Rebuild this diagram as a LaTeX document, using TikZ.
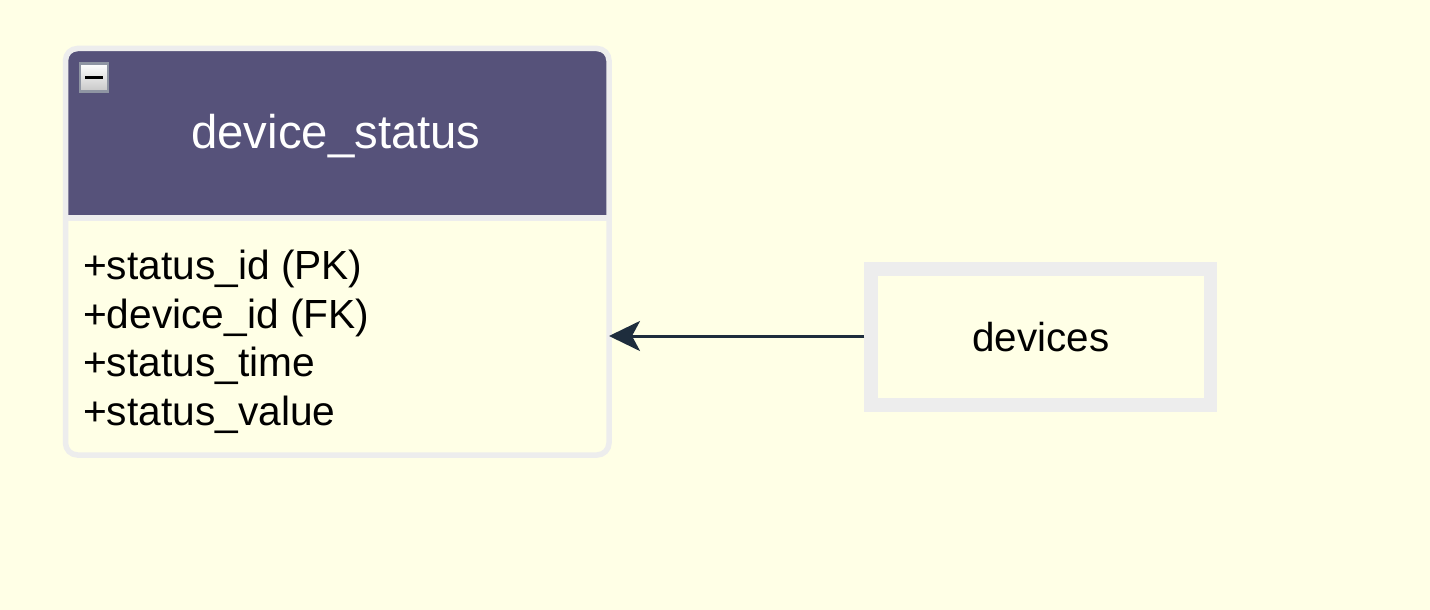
\documentclass[tikz,border=0pt]{standalone}
\usepackage{fontspec}
\setmainfont{Liberation Sans}
\usetikzlibrary{arrows.meta}
\definecolor{bg}{HTML}{FFFFE6}
\definecolor{hdr}{HTML}{56527A}
\definecolor{edge}{HTML}{EDEDED}
\definecolor{arr}{HTML}{1E2D3D}
\definecolor{iconedge}{HTML}{8F95A3}
\tikzset{
  tableframe/.style={draw=edge, line width=5.5pt, rounded corners=12pt, outer sep=0pt, inner sep=0pt},
  entitybox/.style={draw=edge, line width=13.5pt, fill=bg, inner sep=0pt, font=\fontsize{40.4}{48}\selectfont},
  fieldtext/.style={anchor=base west, inner sep=0pt, font=\fontsize{40.7}{48}\selectfont, text=black},
  titletext/.style={anchor=base, inner sep=0pt, font=\fontsize{47.3}{56}\selectfont, text=white},
  iconbox/.style={draw=iconedge, line width=2.5pt, top color=white, bottom color=black!22, inner sep=0pt},
  relarrow/.style={draw=arr, line width=3pt, -{Stealth[length=31pt,width=30pt,inset=8pt]}}
}
\begin{document}
\begin{tikzpicture}[x=1pt,y=-1pt]
\useasboundingbox[fill=bg] (0,0) rectangle (1430,610);
% header fill clipped to rounded frame
\begin{scope}
\clip[rounded corners=12pt] (65.5,48.5) rectangle (609,455);
\fill[hdr] (65.5,48.5) rectangle (609,218);
\end{scope}
\node[tableframe, minimum width=543.5pt, minimum height=406.5pt] (table) at (337.25,251.75) {};
\draw[edge, line width=6pt] (65.5,218) -- (609,218);
\node[titletext] (title) at (336,148.5) {device\_status};
\node[iconbox, minimum width=28pt, minimum height=28pt] (collapse) at (94,77.5) {};
\fill[black] ([xshift=-9pt,yshift=-1.6pt]collapse.center) rectangle ([xshift=9pt,yshift=1.6pt]collapse.center);
\node[fieldtext] (f1) at (83,279.5) {+status\_id (PK)};
\node[fieldtext] (f2) at (83,328) {+device\_id (FK)};
\node[fieldtext] (f3) at (83,376.5) {+status\_time};
\node[fieldtext] (f4) at (83,425) {+status\_value};
\node[entitybox, minimum width=339.5pt, minimum height=136pt] (devices) at (1040.75,337) {devices};
\draw[relarrow] ([yshift=1pt]devices.west) -- ([yshift=1pt]devices.west -| table.east);
\end{tikzpicture}
\end{document}
